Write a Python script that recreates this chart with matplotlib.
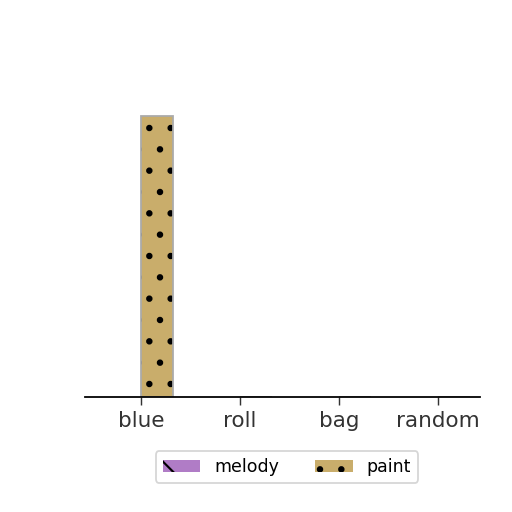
import matplotlib
matplotlib.use("Agg")
import matplotlib.pyplot as plt
import numpy as np

categories = ["blue", "roll", "bag", "random"]
melody = [0, 0, 0, 0]
paint = [10, 0, 0, 0]

DPI = 128
s = 100 / DPI
plt.rcParams["hatch.linewidth"] = 1.2
fig = plt.figure(figsize=(512 / DPI, 512 / DPI), dpi=DPI)
ax = fig.add_axes([85 / 512, 0.225, 395 / 512, 0.575])
x = np.arange(len(categories))
w = 0.32
ax.bar(x - w / 2, melody, w, color="#b07cc6", hatch="\\", edgecolor="black", linewidth=0, label="melody")
ax.bar(x + w / 2, paint, w, color="#c9ad6b", hatch=".", edgecolor="black", linewidth=0, label="paint")
ax.bar(x + w / 2, paint, w, fill=False, edgecolor="#aaaaaa", linewidth=1.0)
ax.set_xticks(x)
ax.set_xticklabels(categories, fontsize=15.5 * s, color="#333333")
ax.set_xlim(-0.566, 3.424)
ax.set_ylim(0, 10.5)
for sp in ["top", "right", "left"]:
    ax.spines[sp].set_visible(False)
ax.spines["bottom"].set_linewidth(1.0)
ax.set_yticks([])
ax.tick_params(axis="x", length=6 * s, color="#333333", pad=4 * s)
leg = fig.legend(loc="center", bbox_to_anchor=(287 / 512, 1 - 467 / 512), ncol=2, fontsize=12.5 * s,
                 frameon=True, columnspacing=2.1, handlelength=2.15)
fig.savefig("out.png", dpi=DPI)
